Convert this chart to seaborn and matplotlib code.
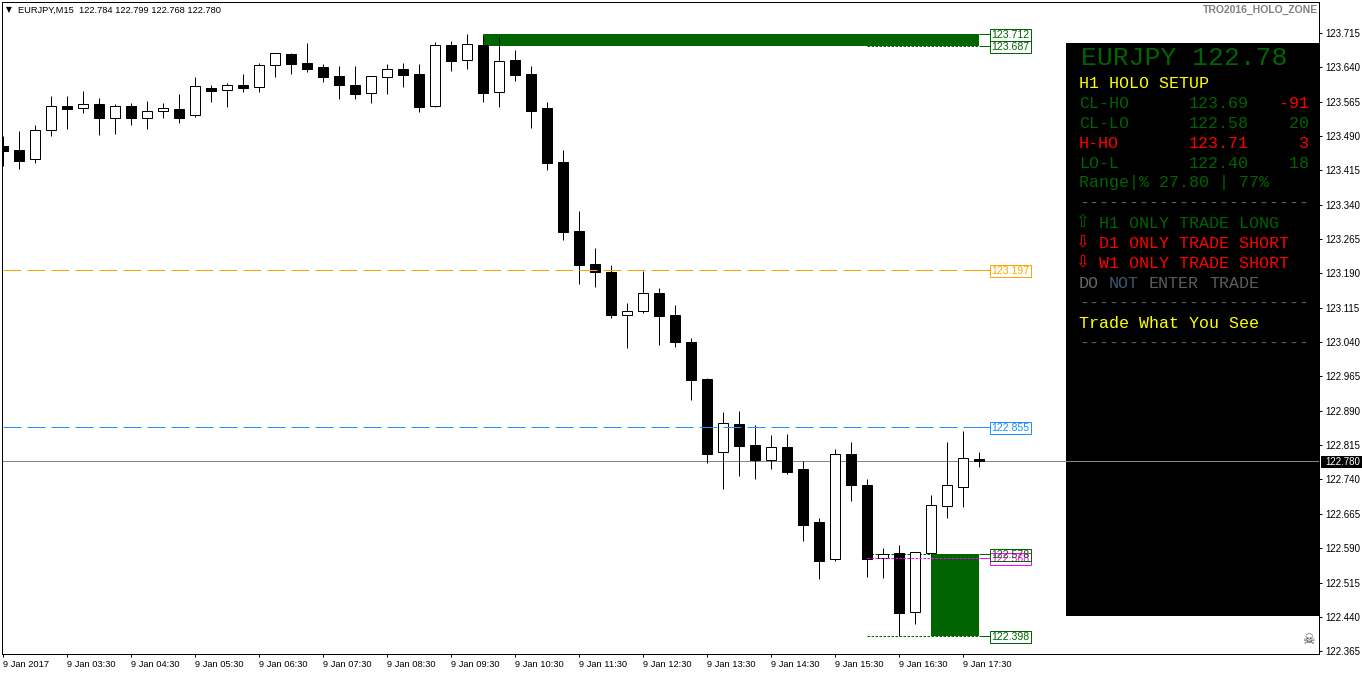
import numpy as np
import pandas as pd
import matplotlib
matplotlib.use('Agg')
import matplotlib.pyplot as plt
import seaborn as sns
from matplotlib.patches import Rectangle
from matplotlib.transforms import Affine2D

# M15 candles
opens = [123.467, 123.460, 123.439, 123.502, 123.556, 123.550, 123.559, 123.530, 123.556, 123.530,
         123.545, 123.548, 123.535, 123.594, 123.591, 123.602, 123.596, 123.644, 123.668, 123.650,
         123.640, 123.620, 123.602, 123.583, 123.618, 123.635, 123.626, 123.556, 123.688, 123.655,
         123.688, 123.585, 123.655, 123.624, 123.550, 123.432, 123.283, 123.211, 123.192, 123.100,
         123.107, 123.146, 123.098, 123.039, 122.960, 122.799, 122.862, 122.816, 122.783, 122.810,
         122.762, 122.648, 122.567, 122.796, 122.729, 122.569, 122.580, 122.451, 122.580, 122.683,
         122.724, 122.784]
highs = [123.489, 123.500, 123.513, 123.578, 123.576, 123.589, 123.572, 123.559, 123.561, 123.567,
         123.561, 123.581, 123.618, 123.600, 123.605, 123.626, 123.650, 123.672, 123.672, 123.692,
         123.646, 123.642, 123.642, 123.620, 123.648, 123.650, 123.648, 123.694, 123.698, 123.712,
         123.709, 123.705, 123.677, 123.642, 123.565, 123.460, 123.327, 123.246, 123.209, 123.126,
         123.196, 123.159, 123.120, 123.048, 122.962, 122.888, 122.890, 122.860, 122.838, 122.840,
         122.781, 122.657, 122.807, 122.821, 122.740, 122.591, 122.598, 122.582, 122.707, 122.821,
         122.845, 122.799]
lows = [123.425, 123.417, 123.430, 123.489, 123.506, 123.539, 123.493, 123.495, 123.513, 123.506,
        123.530, 123.519, 123.532, 123.563, 123.552, 123.585, 123.585, 123.618, 123.624, 123.629,
        123.607, 123.570, 123.570, 123.561, 123.581, 123.596, 123.543, 123.554, 123.631, 123.637,
        123.563, 123.552, 123.609, 123.508, 123.415, 123.262, 123.166, 123.161, 123.093, 123.028,
        123.104, 123.033, 123.030, 122.914, 122.777, 122.720, 122.748, 122.742, 122.762, 122.751,
        122.606, 122.523, 122.563, 122.692, 122.528, 122.526, 122.399, 122.425, 122.575, 122.657,
        122.681, 122.768]
closes = [123.458, 123.436, 123.502, 123.556, 123.548, 123.559, 123.528, 123.556, 123.528, 123.545,
          123.550, 123.530, 123.598, 123.589, 123.602, 123.594, 123.644, 123.670, 123.648, 123.637,
          123.618, 123.602, 123.581, 123.620, 123.635, 123.622, 123.554, 123.688, 123.653, 123.690,
          123.583, 123.653, 123.622, 123.545, 123.430, 123.281, 123.209, 123.192, 123.100, 123.107,
          123.148, 123.096, 123.039, 122.958, 122.796, 122.864, 122.814, 122.783, 122.810, 122.757,
          122.641, 122.563, 122.796, 122.729, 122.567, 122.578, 122.449, 122.582, 122.685, 122.729,
          122.786, 122.780]

y_ticks = [123.715, 123.640, 123.565, 123.490, 123.415, 123.340, 123.265, 123.190, 123.115, 123.040,
           122.965, 122.890, 122.815, 122.740, 122.665, 122.590, 122.515, 122.440, 122.365]
x_tick_pos = [0, 4, 8, 12, 16, 20, 24, 28, 32, 36, 40, 44, 48, 52, 56, 60]
x_tick_labels = ['9 Jan 2017', '9 Jan 03:30', '9 Jan 04:30', '9 Jan 05:30', '9 Jan 06:30', '9 Jan 07:30',
                 '9 Jan 08:30', '9 Jan 09:30', '9 Jan 10:30', '9 Jan 11:30', '9 Jan 12:30', '9 Jan 13:30',
                 '9 Jan 14:30', '9 Jan 15:30', '9 Jan 16:30', '9 Jan 17:30']

# price levels: value, colour
dash_levels = [(123.197, '#FFA500'), (122.855, '#1E90FF')]
dot_levels = [(123.687, '#006400'), (122.578, '#006400'), (122.568, '#FF00FF'), (122.398, '#006400')]
box_levels = [(123.712, '#006400'), (123.687, '#006400'), (123.197, '#FFA500'), (122.855, '#1E90FF'),
              (122.568, '#FF00FF'), (122.578, '#006400'), (122.398, '#006400')]
zones = [(30, 61, 123.687, 123.712), (58, 61, 122.398, 122.578)]

GREEN = '#006400'
RED = '#FF0000'
YELLOW = '#FFFF00'
RULE = '#56626e'
setup_rows = [('CL-HO', '123.69', '  -91', GREEN, GREEN, RED),
              ('CL-LO', '122.58', '   20', GREEN, GREEN, GREEN),
              ('H-HO', '123.71', '    3', RED, RED, RED),
              ('LO-L', '122.40', '   18', GREEN, GREEN, GREEN)]
trade_rows = [('\u21e7', 'H1 ONLY TRADE LONG', GREEN),
              ('\u21e9', 'D1 ONLY TRADE SHORT', RED),
              ('\u21e9', 'W1 ONLY TRADE SHORT', RED)]

sns.set_theme(style='white')
plt.rcParams['font.family'] = ['Liberation Sans', 'DejaVu Sans']
plt.rcParams['lines.scale_dashes'] = False
plt.rcParams['lines.dash_capstyle'] = 'butt'
plt.rcParams['lines.solid_capstyle'] = 'butt'

W, H = 1362, 675
PX = 0.72  # one pixel in points
fig = plt.figure(figsize=(W / 100, H / 100), dpi=100, facecolor='white')
ax = fig.add_axes([2 / W, 1 - 654 / H, 1317 / W, 652 / H], facecolor='white')
# screen pixels, y going down, for the furniture that is not tied to prices
px = Affine2D().scale(1 / W, -1 / H).translate(0, 1) + fig.transFigure

candles = pd.DataFrame({'i': np.arange(len(opens)), 'open': opens, 'high': highs, 'low': lows, 'close': closes})
candles['bottom'] = candles[['open', 'close']].min(axis=1)
candles['height'] = (candles['open'] - candles['close']).abs()

# zones and info panel stay behind the candles
for start, end, low, high in zones:
    ax.add_patch(Rectangle((start, low), end - start, high - low, facecolor=GREEN, edgecolor='none', zorder=0.8))
ax.add_patch(Rectangle((1066, 43), 253, 573, transform=px, facecolor='black', edgecolor='none', zorder=0.7))
ax.axhline(closes[-1], color='#778899', lw=PX, zorder=1)

wicks = candles.melt(id_vars='i', value_vars=['high', 'low'], value_name='price')
wicks['bar'] = wicks['i']
sns.lineplot(data=wicks, x='i', y='price', units='bar', estimator=None, color='black', lw=PX,
             sort=False, legend=False, ax=ax, zorder=2)

up = candles[candles['close'] >= candles['open']]
down = candles[candles['close'] < candles['open']]
for part, colour in [(up, 'white'), (down, 'black')]:
    sns.barplot(data=part, x='i', y='height', bottom=part['bottom'].values, native_scale=True, width=0.625,
                color=colour, saturation=1, edgecolor='black', linewidth=PX, errorbar=None, ax=ax, zorder=3)

label_x = 61.69
for value, colour in dash_levels:
    sns.lineplot(x=[0, label_x], y=[value, value], color=colour, lw=PX, linestyle=(0, (18 * PX, 6 * PX)),
                 errorbar=None, legend=False, ax=ax, zorder=4)
for value, colour in dot_levels:
    sns.lineplot(x=[54, 61], y=[value, value], color=colour, lw=PX, linestyle=(0, (2.5 * PX, 1.5 * PX)),
                 errorbar=None, legend=False, ax=ax, zorder=2.5 if colour == GREEN else 4)
for value, colour in box_levels:
    sns.lineplot(x=[61, label_x], y=[value, value], color=colour, lw=PX, errorbar=None, legend=False,
                 ax=ax, zorder=4)
    ax.text(label_x + 0.08, value, f'{value:.3f}', color=colour, fontsize=7.6, va='center_baseline', ha='left',
            zorder=5, bbox=dict(boxstyle='square,pad=0.1', facecolor='none', edgecolor=colour, linewidth=PX))

ax.set_xlim(-0.0625, 82.25)
ax.set_ylim(122.35905, 123.78225)
ax.set_xlabel('')
ax.set_ylabel('')
ax.yaxis.tick_right()
ax.set_yticks(y_ticks)
ax.set_yticklabels([f'{v:.3f}' for v in y_ticks])
ax.set_xticks(x_tick_pos)
ax.set_xticklabels(x_tick_labels, ha='left')
ax.tick_params(axis='both', length=2.5, width=PX, color='black', labelcolor='black', pad=2,
               bottom=True, right=True, left=False, top=False)
ax.tick_params(axis='x', labelsize=6.7)
ax.tick_params(axis='y', labelsize=7.0)
for spine in ax.spines.values():
    spine.set_color('black')
    spine.set_linewidth(PX)

# chart header
ax.text(6, 10, '\u25bc', transform=px, fontsize=5.5, color='black', va='center', family='DejaVu Sans')
ax.text(18, 10, 'EURJPY,M15  122.784 122.799 122.768 122.780', transform=px, fontsize=6.7, color='black', va='center')
ax.text(1318, 10, 'TRO2016_HOLO_ZONE', transform=px, fontsize=7.5, color='#808080', va='center', ha='right',
        fontweight='bold')
ax.text(1308, 640, '\u2620', transform=px, fontsize=10, color='#444444', va='center', ha='center',
        family='DejaVu Sans', zorder=6)

# last price tag
ax.add_patch(Rectangle((1321, 456), 41, 12, transform=px, facecolor='black', edgecolor='none', clip_on=False, zorder=6))
ax.text(1325, 462, f'{closes[-1]:.3f}', transform=px, fontsize=7.0, color='white', va='center', zorder=7)


def mono(x, y, s, colour, size=12):
    ax.text(x, y, s, transform=px, family='Liberation Mono', fontsize=size, color=colour, va='center', zorder=6)


mono(1081, 58, 'EURJPY 122.78', GREEN, size=19)
mono(1079, 83, 'H1 HOLO SETUP', YELLOW)
for k, (name, price, pips, c1, c2, c3) in enumerate(setup_rows):
    y = 103 + 20 * k
    mono(1079, y, name, c1)
    mono(1189, y, price, c2)
    mono(1259, y, pips, c3)
mono(1079, 183, 'Range|% 27.80 | 77%', GREEN)
mono(1079, 203, '-' * 23, RULE)
for k, (arrow, text, colour) in enumerate(trade_rows):
    y = 223 + 20 * k
    ax.text(1082, y - 1, arrow, transform=px, family='DejaVu Sans', fontsize=12, color=colour, va='center',
            ha='center', zorder=6)
    mono(1099, y, text, colour)
mono(1079, 283, 'DO', '#696969')
mono(1109, 283, 'NOT', '#3f5872')
mono(1149, 283, 'ENTER', '#5c5c5c')
mono(1209, 283, 'TRADE', '#5c5c5c')
mono(1079, 303, '-' * 23, RULE)
mono(1079, 323, 'Trade What You See', YELLOW)
mono(1079, 343, '-' * 23, RULE)

fig.savefig('out.png', dpi=100)
